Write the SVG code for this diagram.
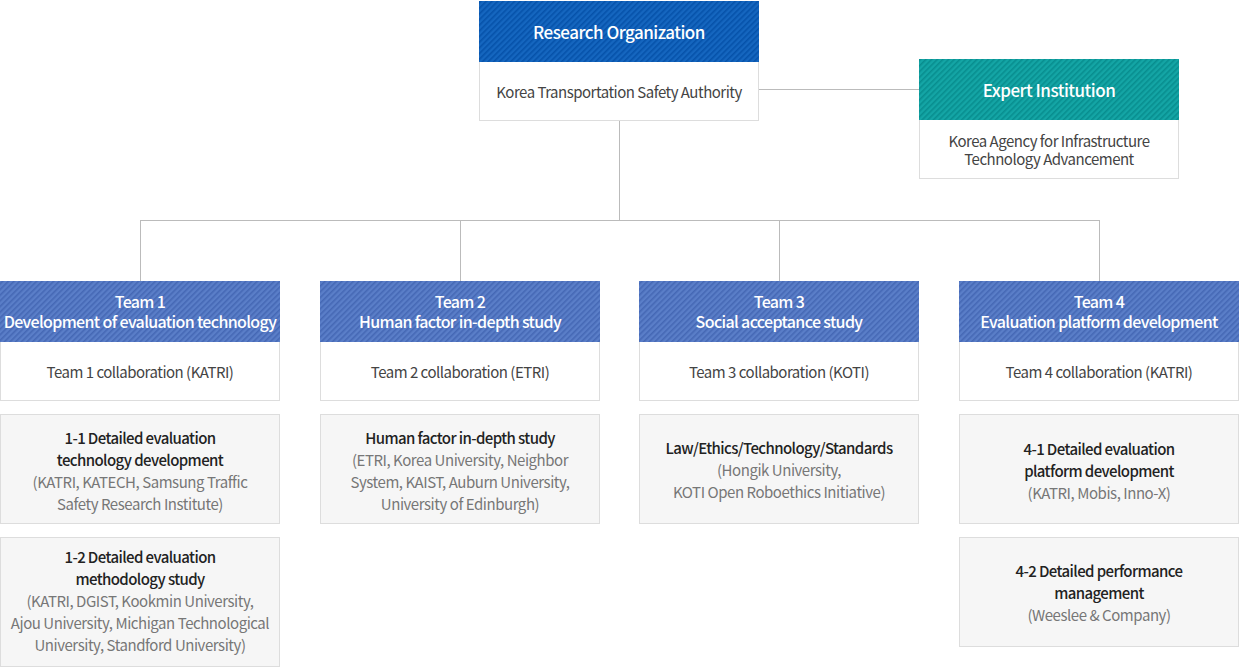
<svg xmlns="http://www.w3.org/2000/svg" width="1239" height="667" viewBox="0 0 1239 667">
<defs>
<pattern id="hTeam" width="4" height="4" patternUnits="userSpaceOnUse" patternTransform="rotate(45)"><rect width="4" height="4" fill="#5a7ec8"/><rect width="1.6" height="4" fill="#4568b5"/></pattern>
<pattern id="hRes" width="4" height="4" patternUnits="userSpaceOnUse" patternTransform="rotate(45)"><rect width="4" height="4" fill="#1566bf"/><rect width="1.6" height="4" fill="#0652aa"/></pattern>
<pattern id="hExp" width="4" height="4" patternUnits="userSpaceOnUse" patternTransform="rotate(45)"><rect width="4" height="4" fill="#14a5a5"/><rect width="1.6" height="4" fill="#088e8f"/></pattern>
</defs>
<style>
text{font-family:"Noto Sans CJK KR","Noto Sans",sans-serif;text-anchor:middle}
.hd{fill:#fff;font-size:16px;font-weight:500;letter-spacing:-0.65px}
.hb{fill:#fff;font-size:17px;font-weight:500;letter-spacing:-0.5px}
.bd{fill:#444;font-size:15px;letter-spacing:-0.5px}
.tt{fill:#222;font-size:15px;font-weight:500;letter-spacing:-0.6px}
.og{fill:#777;font-size:15px;letter-spacing:-0.45px}
.box{fill:#fff;stroke:#dddddd;stroke-width:1}
.det{fill:#f6f6f6;stroke:#dddddd;stroke-width:1}
.ln{stroke:#bbbbbb;stroke-width:1;fill:none}
</style>
<g id="connectors">
<path class="ln" d="M759 89.5H919M619.5 120V220.5M140.5 220.5H1099.5M140.5 220V281M460.5 220V281M779.5 220V281M1099.5 220V281"/>
</g>
<g id="research">
<rect x="479.5" y="61.5" width="279" height="59" class="box"/>
<rect x="479" y="1" width="280" height="61" fill="url(#hRes)"/>
<text x="619" y="39" class="hb">Research Organization</text>
<text x="619" y="98" class="bd">Korea Transportation Safety Authority</text>
</g>
<g id="expert">
<rect x="919.5" y="119.5" width="259" height="59" class="box"/>
<rect x="919" y="59" width="260" height="61" fill="url(#hExp)"/>
<text x="1049" y="97" class="hb">Expert Institution</text>
<text x="1049" y="147" class="bd">Korea Agency for Infrastructure</text>
<text x="1049" y="165" class="bd">Technology Advancement</text>
</g>
<g id="team1">
<rect x="0.5" y="341.5" width="279" height="59" class="box"/>
<rect x="0" y="281" width="280" height="61" fill="url(#hTeam)"/>
<text x="140" y="307.5" class="hd">Team 1</text>
<text x="140" y="327.5" class="hd">Development of evaluation technology</text>
<text x="140" y="378" class="bd">Team 1 collaboration (KATRI)</text>
</g>
<g id="team2">
<rect x="320.5" y="341.5" width="279" height="59" class="box"/>
<rect x="320" y="281" width="280" height="61" fill="url(#hTeam)"/>
<text x="460" y="307.5" class="hd">Team 2</text>
<text x="460" y="327.5" class="hd">Human factor in-depth study</text>
<text x="460" y="378" class="bd">Team 2 collaboration (ETRI)</text>
</g>
<g id="team3">
<rect x="639.5" y="341.5" width="279" height="59" class="box"/>
<rect x="639" y="281" width="280" height="61" fill="url(#hTeam)"/>
<text x="779" y="307.5" class="hd">Team 3</text>
<text x="779" y="327.5" class="hd">Social acceptance study</text>
<text x="779" y="378" class="bd">Team 3 collaboration (KOTI)</text>
</g>
<g id="team4">
<rect x="959.5" y="341.5" width="279" height="59" class="box"/>
<rect x="959" y="281" width="280" height="61" fill="url(#hTeam)"/>
<text x="1099" y="307.5" class="hd">Team 4</text>
<text x="1099" y="327.5" class="hd">Evaluation platform development</text>
<text x="1099" y="378" class="bd">Team 4 collaboration (KATRI)</text>
</g>
<g id="d1-1">
<rect x="0.5" y="414.5" width="279" height="109" class="det"/>
<text x="140" y="444" class="tt">1-1 Detailed evaluation</text>
<text x="140" y="466" class="tt">technology development</text>
<text x="140" y="488" class="og">(KATRI, KATECH, Samsung Traffic</text>
<text x="140" y="510" class="og">Safety Research Institute)</text>
</g>
<g id="d1-2">
<rect x="0.5" y="537.5" width="279" height="129" class="det"/>
<text x="140" y="563" class="tt">1-2 Detailed evaluation</text>
<text x="140" y="585" class="tt">methodology study</text>
<text x="140" y="607" class="og">(KATRI, DGIST, Kookmin University,</text>
<text x="140" y="629" class="og">Ajou University, Michigan Technological</text>
<text x="140" y="651" class="og">University, Standford University)</text>
</g>
<g id="d2">
<rect x="320.5" y="414.5" width="279" height="109" class="det"/>
<text x="460" y="444" class="tt">Human factor in-depth study</text>
<text x="460" y="466" class="og">(ETRI, Korea University, Neighbor</text>
<text x="460" y="488" class="og">System, KAIST, Auburn University,</text>
<text x="460" y="510" class="og">University of Edinburgh)</text>
</g>
<g id="d3">
<rect x="639.5" y="414.5" width="279" height="109" class="det"/>
<text x="779" y="454" class="tt">Law/Ethics/Technology/Standards</text>
<text x="779" y="476" class="og">(Hongik University,</text>
<text x="779" y="498" class="og">KOTI Open Roboethics Initiative)</text>
</g>
<g id="d4-1">
<rect x="959.5" y="414.5" width="279" height="109" class="det"/>
<text x="1099" y="455" class="tt">4-1 Detailed evaluation</text>
<text x="1099" y="477" class="tt">platform development</text>
<text x="1099" y="499" class="og">(KATRI, Mobis, Inno-X)</text>
</g>
<g id="d4-2">
<rect x="959.5" y="537.5" width="279" height="109" class="det"/>
<text x="1099" y="577" class="tt">4-2 Detailed performance</text>
<text x="1099" y="599" class="tt">management</text>
<text x="1099" y="621" class="og">(Weeslee &amp; Company)</text>
</g>
</svg>
